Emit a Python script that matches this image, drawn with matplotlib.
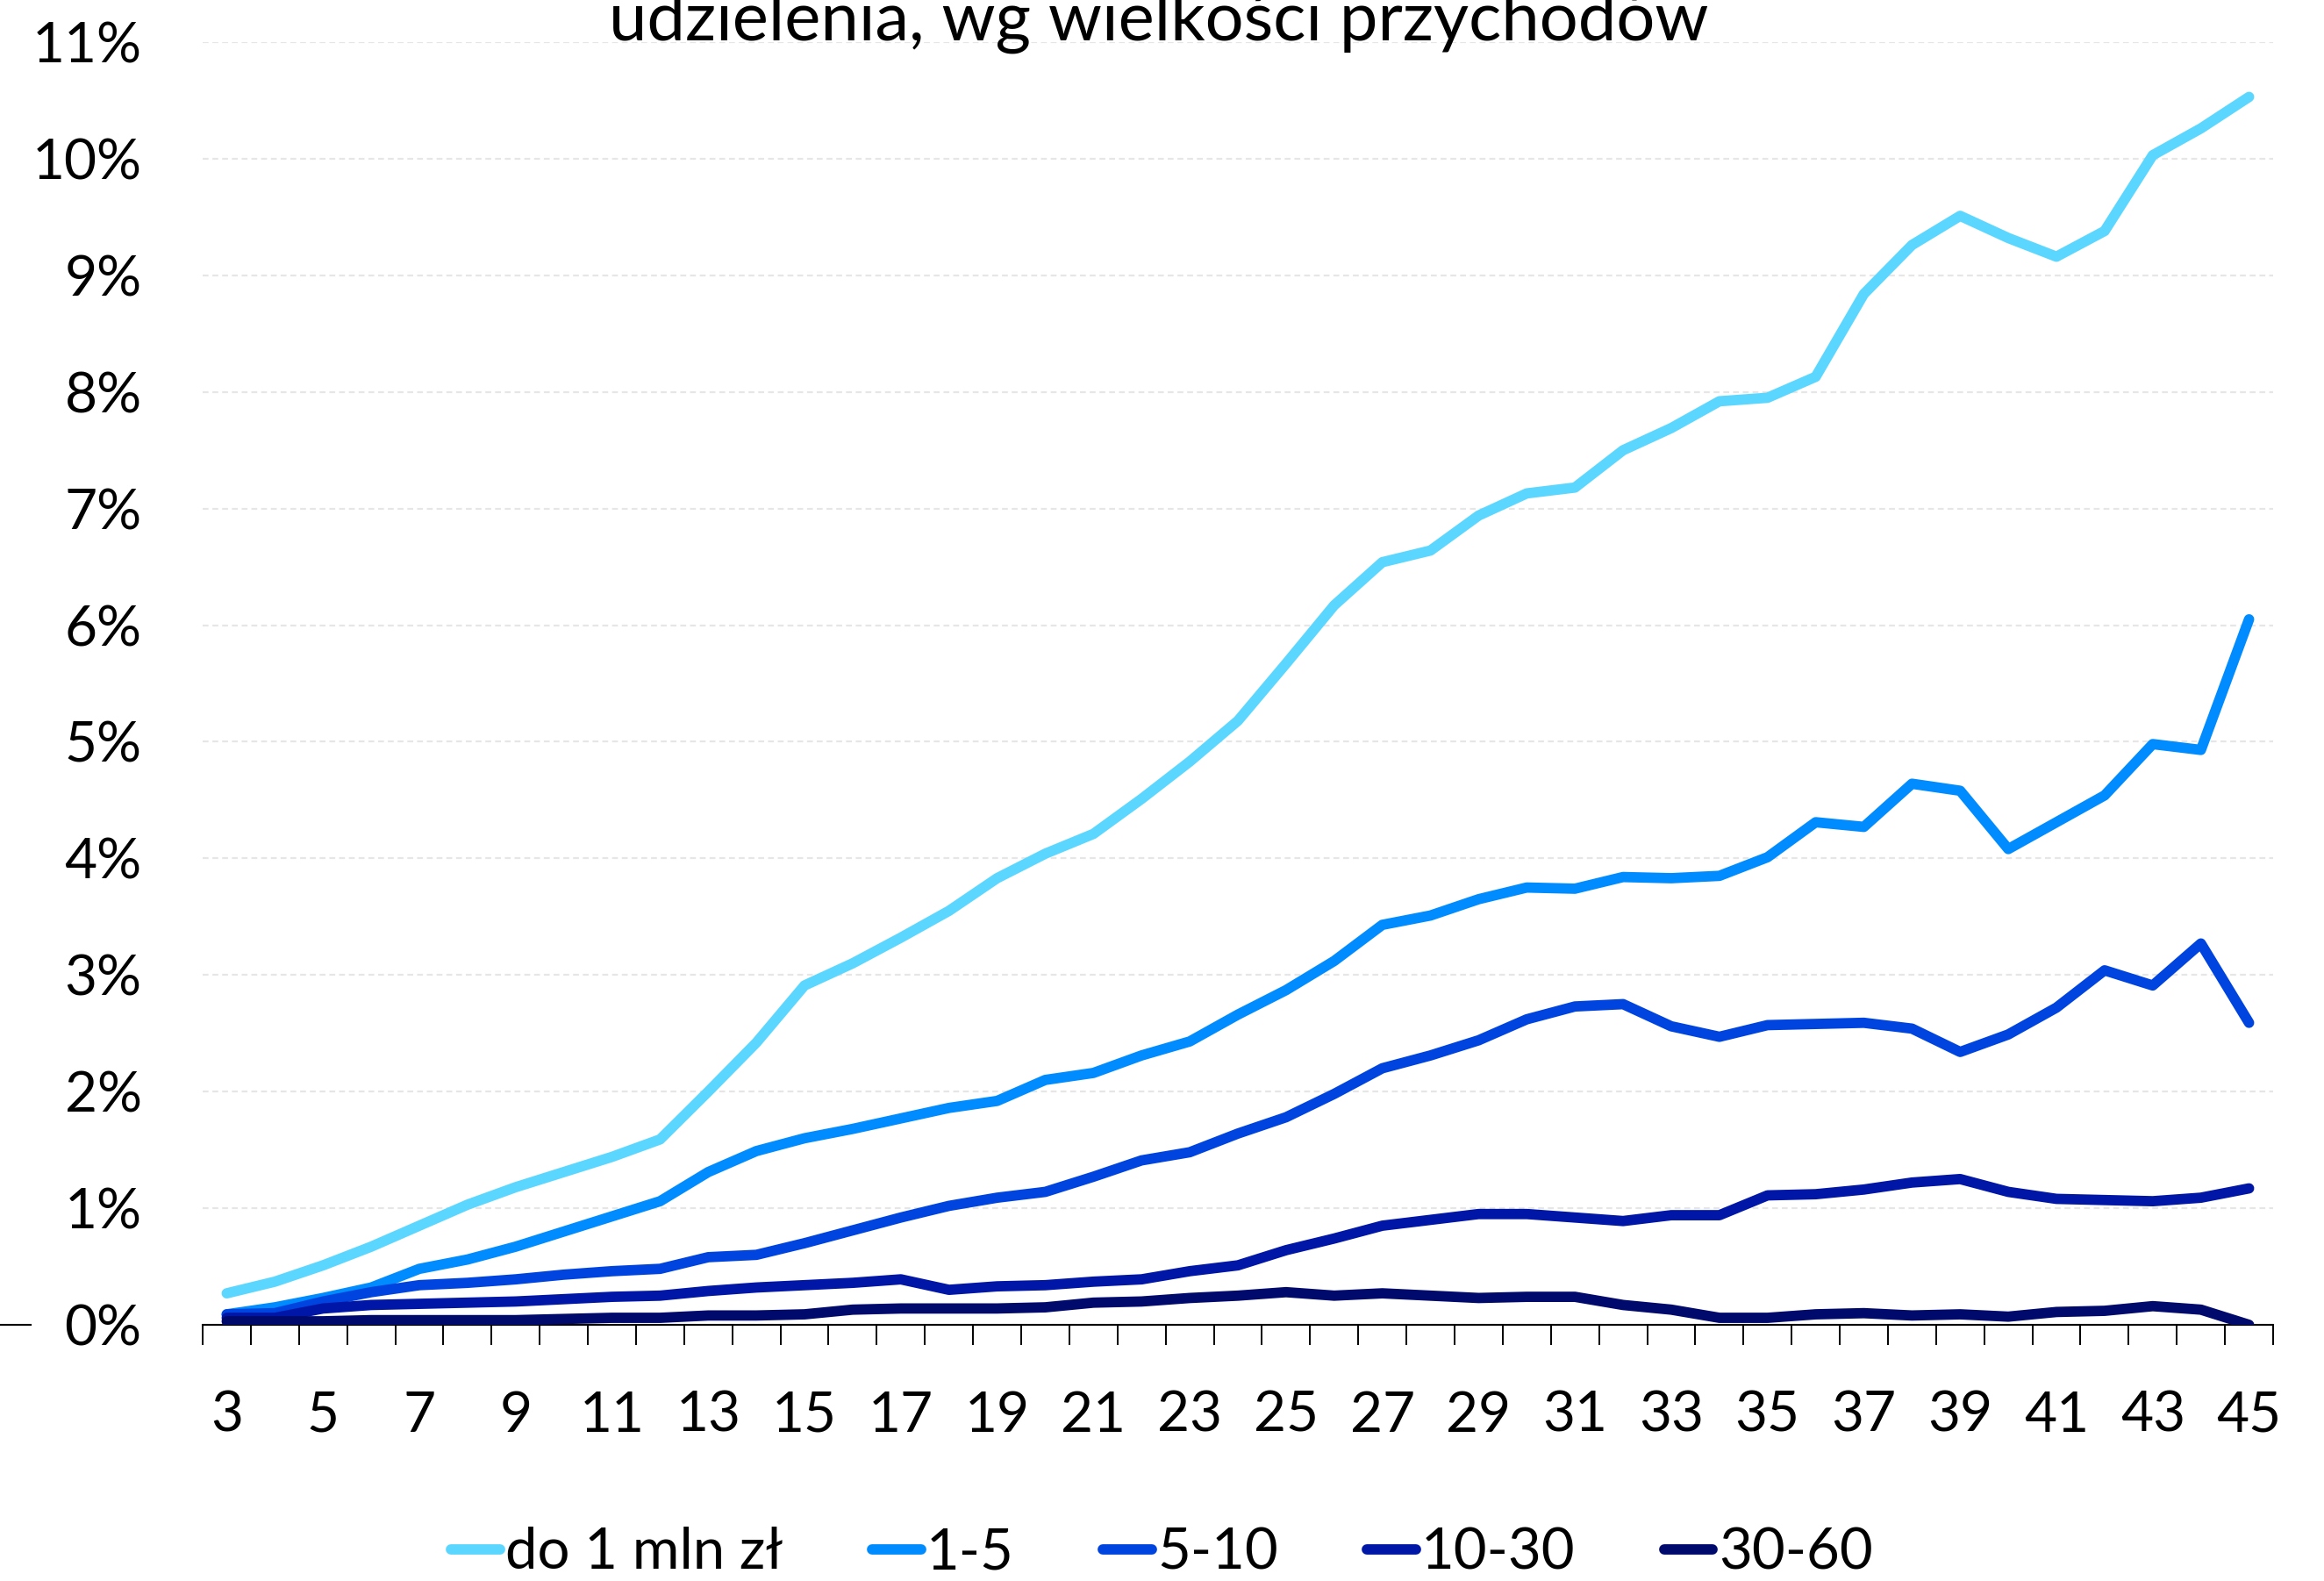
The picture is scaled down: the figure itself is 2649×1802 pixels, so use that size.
import matplotlib
matplotlib.use("Agg")
import matplotlib.pyplot as plt
from matplotlib.lines import Line2D
from matplotlib.ticker import FixedLocator, FuncFormatter

plt.rcParams['font.family'] = ['Lato', 'DejaVu Sans']

# Months since the loan was granted
months = list(range(3, 46))

series_names = ["do 1 mln zł", "1-5", "5-10", "10-30", "30-60"]

do_1_mln = [0.27, 0.37, 0.51, 0.67, 0.85, 1.03, 1.18, 1.31, 1.44, 1.59,
            2.00, 2.42, 2.91, 3.10, 3.32, 3.55, 3.83, 4.04, 4.21, 4.51,
            4.83, 5.18, 5.67, 6.17, 6.54, 6.64, 6.94, 7.13, 7.18, 7.50,
            7.69, 7.92, 7.95, 8.13, 8.84, 9.26, 9.51, 9.32, 9.16, 9.38,
            10.03, 10.26, 10.53]
mln_1_5 = [0.09, 0.15, 0.23, 0.32, 0.48, 0.56, 0.67, 0.80, 0.93, 1.06,
           1.31, 1.49, 1.60, 1.68, 1.77, 1.86, 1.92, 2.10, 2.16, 2.31,
           2.43, 2.66, 2.87, 3.12, 3.43, 3.51, 3.65, 3.75, 3.74, 3.84,
           3.83, 3.85, 4.01, 4.31, 4.27, 4.64, 4.58, 4.08, 4.31, 4.54,
           4.98, 4.93, 6.05]
mln_5_10 = [0.09, 0.10, 0.20, 0.28, 0.34, 0.36, 0.39, 0.43, 0.46, 0.48,
            0.58, 0.60, 0.70, 0.81, 0.92, 1.02, 1.09, 1.14, 1.27, 1.41,
            1.48, 1.64, 1.78, 1.98, 2.20, 2.31, 2.44, 2.62, 2.73, 2.75,
            2.56, 2.47, 2.57, 2.58, 2.59, 2.54, 2.34, 2.49, 2.72, 3.04,
            2.91, 3.27, 2.59]
mln_10_30 = [0.06, 0.06, 0.14, 0.17, 0.18, 0.19, 0.20, 0.22, 0.24, 0.25,
             0.29, 0.32, 0.34, 0.36, 0.39, 0.30, 0.33, 0.34, 0.37, 0.39,
             0.46, 0.51, 0.64, 0.74, 0.85, 0.90, 0.95, 0.95, 0.92, 0.89,
             0.94, 0.94, 1.11, 1.12, 1.16, 1.22, 1.25, 1.14, 1.08, 1.07,
             1.06, 1.09, 1.17]
mln_30_60 = [0.03, 0.03, 0.03, 0.04, 0.04, 0.04, 0.04, 0.05, 0.06, 0.06,
             0.08, 0.08, 0.09, 0.13, 0.14, 0.14, 0.14, 0.15, 0.19, 0.20,
             0.23, 0.25, 0.28, 0.25, 0.27, 0.25, 0.23, 0.24, 0.24, 0.17,
             0.13, 0.06, 0.06, 0.09, 0.10, 0.08, 0.09, 0.07, 0.11, 0.12,
             0.16, 0.13, 0.00]

colors = ["#5BD7FF", "#008CFF", "#0044E0", "#0016A6", "#000A6C"]

fig = plt.figure(figsize=(26.49, 18.02), dpi=100)
ax = fig.add_axes([231 / 2649, 1 - 1510 / 1802, (2591 - 231) / 2649, (1510 - 48) / 1802])

for name, vals, col in zip(series_names,
                           [do_1_mln, mln_1_5, mln_5_10, mln_10_30, mln_30_60],
                           colors):
    ax.plot(months, vals, color=col, lw=8.5, label=name,
            solid_capstyle='round', solid_joinstyle='round', zorder=3)

ax.set_xlim(2.5, 45.5)
ax.set_ylim(0, 11)

ax.yaxis.set_major_locator(FixedLocator(range(0, 12)))
ax.yaxis.set_major_formatter(FuncFormatter(lambda v, p: f"{int(v)}%"))
ax.xaxis.set_major_locator(FixedLocator(range(3, 46, 2)))
ax.xaxis.set_minor_locator(FixedLocator([m + 0.5 for m in range(2, 46)]))

ax.tick_params(axis='y', length=0, pad=50, labelsize=46)
ax.tick_params(axis='x', which='major', length=0, pad=54, labelsize=46)
ax.tick_params(axis='x', which='minor', length=16.5, width=1.4, color='black')

for side in ['left', 'top', 'right']:
    ax.spines[side].set_visible(False)
ax.spines['bottom'].set_linewidth(1.5)
ax.spines['bottom'].set_color('black')
ax.spines['bottom'].set_zorder(2)

ax.grid(axis='y', color='#E6E6E6', lw=1.6, linestyle=(0, (3, 2)), zorder=0)
ax.set_axisbelow(True)

fig.text(0.4987, 1 - 46 / 1802, "udzielenia, wg wielkości przychodów",
         ha='center', va='baseline', fontsize=56)

fig.add_artist(Line2D([0, 35 / 2649], [1 - 1510 / 1802] * 2,
                      transform=fig.transFigure, color='black', lw=1.5))

fig.legend(loc='center', bbox_to_anchor=(0.5, 1 - 1770 / 1802), ncol=5,
           frameon=False, fontsize=47, handlelength=0.85, handletextpad=0.1,
           columnspacing=1.55)

fig.savefig("out.png", dpi=100)
